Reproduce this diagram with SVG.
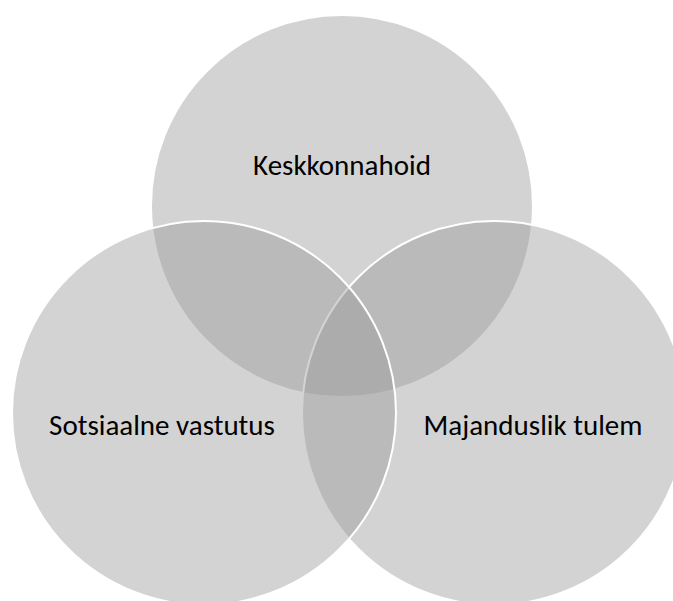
<svg xmlns="http://www.w3.org/2000/svg" width="673" height="601" viewBox="0 0 673 601">
<style>
.c{fill:#999999;fill-opacity:0.43;stroke:#ffffff;stroke-width:2}
.t{font-family:Carlito,Calibri,Lato,"Liberation Sans",sans-serif;font-size:29px;fill:#000000;text-anchor:middle}
</style>
<rect width="673" height="601" fill="#ffffff"/>
<g id="top">
<circle class="c" cx="342" cy="206" r="191"/>
</g>
<g id="right">
<circle class="c" cx="494" cy="413" r="192"/>
</g>
<g id="left">
<circle class="c" cx="204" cy="413" r="192"/>
</g>
<g id="labels">
<text class="t" x="342" y="175">Keskkonnahoid</text>
<text class="t" x="162" y="435">Sotsiaalne vastutus</text>
<text class="t" x="533" y="435">Majanduslik tulem</text>
</g>
<g id="connectors"/>
</svg>
